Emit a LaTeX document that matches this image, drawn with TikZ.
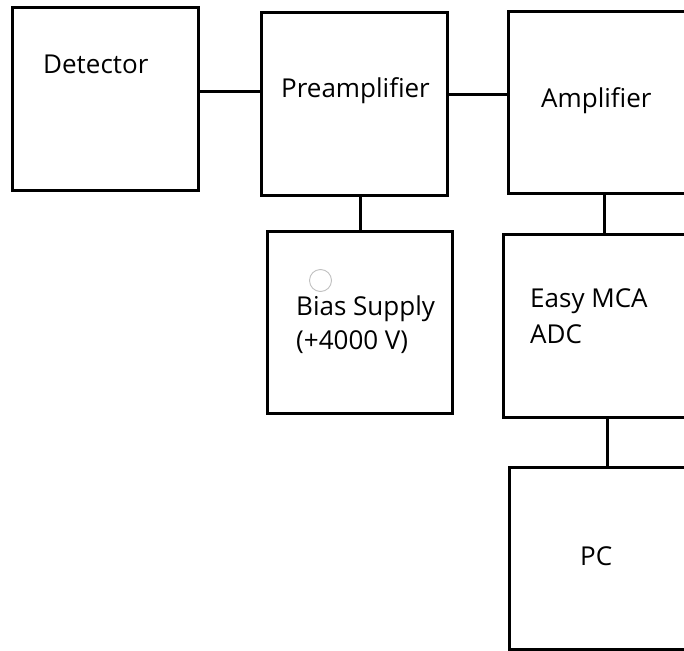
\documentclass[tikz,border=0pt]{standalone}
\usepackage{fontspec}
\setmainfont{Open Sans}
\usepackage{tikz}
\usetikzlibrary{positioning, calc}
\tikzset{unit/.style={rectangle, draw=black, line width=3pt, minimum width=186pt, minimum height=182pt, inner sep=0pt}, lbl/.style={anchor=base west, inner sep=0pt, align=left, font=\fontsize{26}{34}\selectfont, text=black}, link/.style={line width=3pt}}

\begin{document}
\begin{tikzpicture}[x=1pt, y=-1pt]
                 \useasboundingbox (0,0) rectangle (684,650);
                 \clip (0,0) rectangle (684,650);

                 \node[unit] (det) at (105,99) {};
                 \node[lbl] (detlbl) at (43,74) {Detector};

                 \node[unit] (pre) at (354,104) {};
                 \node[lbl] (prelbl) at (281,97) {Preamplifier};

                 \node[unit, minimum height=181pt] (amp) at (601,102.5) {};
                 \node[lbl] (amplbl) at (541,107) {Amplifier};

                 % last line sets the base
                 \node[unit, minimum width=185pt] (bias) at (359.5,322) {};
                 \node[lbl] (biaslbl) at (296,349) {Bias Supply\\(+4000 V)};
                 \draw[black!25, line width=0.9pt] (320.5,280.5) circle (11pt);

                 \node[unit, minimum height=183pt] (mca) at (596,325.5) {};
                 \node[lbl, font=\fontsize{26}{36}\selectfont] (mcalbl) at (530,343) {Easy MCA\\ADC};

                 \node[unit] (pc) at (602,558) {};
                 \node[lbl] (pclbl) at (580,565) {PC};

                 % links
                 \draw[link] (det.east |- 0,92) -- (pre.west |- 0,92);
                 \draw[link] (pre.east |- 0,95) -- (amp.west |- 0,95);
                 \draw[link] (pre.south -| 360,0) -- (bias.north -| 360,0);
                 \draw[link] (amp.south -| 604,0) -- (mca.north -| 604,0);
                 \draw[link] (mca.south -| 607,0) -- (pc.north -| 607,0);

\end{tikzpicture}
\end{document}
